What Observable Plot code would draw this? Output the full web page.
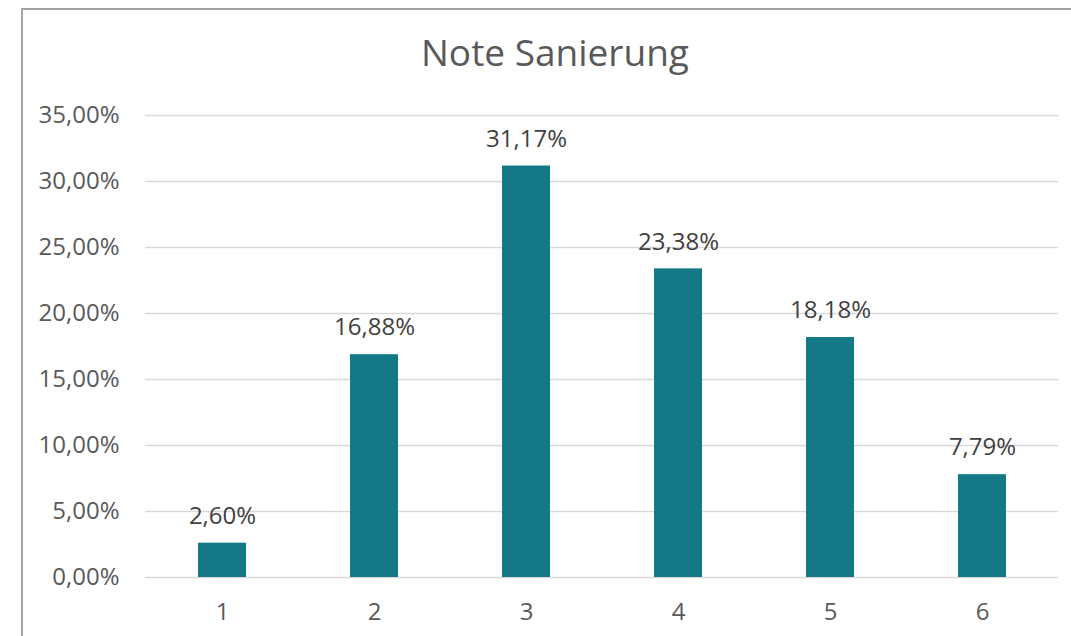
<!DOCTYPE html>
<html>
<head>
<meta charset="utf-8">
<script src="https://cdn.jsdelivr.net/npm/d3@7"></script>
<script src="https://cdn.jsdelivr.net/npm/@observablehq/plot@0.6"></script>
<style>
  html, body { margin: 0; padding: 0; background: #fff; }
  #wrap { position: relative; width: 1071px; height: 636px; overflow: hidden; background: #fff; }
  #frame { position: absolute; left: 21px; top: 8px; width: 1100px; height: 700px; border: 2px solid #a3a3a3; box-sizing: border-box; }
  #title { position: absolute; left: 21px; width: 1068px; top: 26px; text-align: center; font-family: "Open Sans", sans-serif; font-size: 37px; color: #595959; }
  #chart { position: absolute; left: 0; top: 0; }
</style>
</head>
<body>
<div id="wrap">
  <div id="frame"></div>
  <div id="chart"></div>
  <div id="title">Note Sanierung</div>
</div>
<script>
const categories = ["1", "2", "3", "4", "5", "6"];
const values = [2.60, 16.88, 31.17, 23.38, 18.18, 7.79];
const yTicks = [0, 5, 10, 15, 20, 25, 30, 35];

const data = categories.map((c, i) => ({cat: c, v: values[i]}));
const fmt = d => d.toFixed(2).replace(".", ",") + "%";

const chart = Plot.plot({
  width: 1071,
  height: 636,
  marginLeft: 145,
  marginRight: 13,
  marginTop: 115,
  marginBottom: 59,
  style: {fontFamily: "'Open Sans', sans-serif", fontSize: "24px", background: "transparent", overflow: "visible"},
  x: {domain: categories, padding: 0, label: null},
  y: {domain: [0, 35], label: null},
  marks: [
    Plot.ruleY(yTicks, {stroke: "#d9d9d9", strokeWidth: 1.5}),
    Plot.barY(data, {x: "cat", y: "v", fill: "#147987", insetLeft: 52, insetRight: 52}),
    Plot.text(data, {x: "cat", y: "v", text: d => fmt(d.v), dy: -27, fill: "#404040", fontSize: 24}),
    Plot.axisY(yTicks, {tickSize: 0, tickPadding: 26, tickFormat: fmt, fill: "#595959", fontSize: 24}),
    Plot.axisX({tickSize: 0, tickPadding: 25, fill: "#595959", fontSize: 24})
  ]
});
document.getElementById("chart").appendChild(chart);
</script>
</body>
</html>
